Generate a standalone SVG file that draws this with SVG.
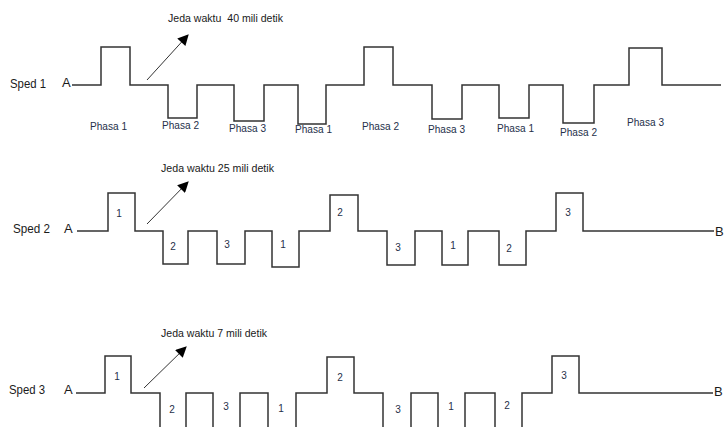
<svg xmlns="http://www.w3.org/2000/svg" width="724" height="427" viewBox="0 0 724 427">
<defs>
<style>
.sig{fill:none;stroke:#333;stroke-width:1.5;stroke-linejoin:miter}
.arr{fill:none;stroke:#333;stroke-width:1}
.lbl{font-family:"Liberation Sans",Arial,sans-serif;font-size:13px;fill:#1a1a1a}
.ph{font-family:"Liberation Sans",Arial,sans-serif;font-size:11px;fill:#25304a}
.num{font-family:"Liberation Sans",Arial,sans-serif;font-size:10px;fill:#25304a;text-anchor:middle}
.jeda{font-family:"Liberation Sans",Arial,sans-serif;font-size:11px;fill:#1a1a1a}
</style>
<marker id="ah" viewBox="0 0 10 10" refX="9" refY="5" markerWidth="14" markerHeight="11" markerUnits="userSpaceOnUse" orient="auto">
<path d="M0,0 L10,5 L0,10 z" fill="#000"/>
</marker>
</defs>
<rect width="724" height="427" fill="#fff"/>

<g id="sped1">
<text class="lbl" x="10" y="88" textLength="36" lengthAdjust="spacingAndGlyphs">Sped 1</text>
<text class="lbl" x="62" y="87">A</text>
<path class="sig" d="M72,85 H101 V47 H130 V85 H168 V118 H197 V85 H234 V121 H264 V85 H298 V124 H326 V85 H364 V47 H393 V85 H432 V119 H462 V85 H499 V118 H529 V85 H563 V123 H594 V85 H629 V48 H662 V85 H721"/>
<text class="ph" x="90" y="130" textLength="37" lengthAdjust="spacingAndGlyphs">Phasa 1</text>
<text class="ph" x="162" y="129" textLength="37" lengthAdjust="spacingAndGlyphs">Phasa 2</text>
<text class="ph" x="229" y="132" textLength="37" lengthAdjust="spacingAndGlyphs">Phasa 3</text>
<text class="ph" x="295" y="133" textLength="37" lengthAdjust="spacingAndGlyphs">Phasa 1</text>
<text class="ph" x="362" y="130" textLength="37" lengthAdjust="spacingAndGlyphs">Phasa 2</text>
<text class="ph" x="428" y="133" textLength="37" lengthAdjust="spacingAndGlyphs">Phasa 3</text>
<text class="ph" x="497" y="132" textLength="37" lengthAdjust="spacingAndGlyphs">Phasa 1</text>
<text class="ph" x="560" y="136" textLength="37" lengthAdjust="spacingAndGlyphs">Phasa 2</text>
<text class="ph" x="627" y="126" textLength="37" lengthAdjust="spacingAndGlyphs">Phasa 3</text>
<text class="jeda" x="168" y="22" textLength="115" lengthAdjust="spacingAndGlyphs" xml:space="preserve">Jeda waktu  40 mili detik</text>
</g>

<g id="sped2">
<text class="lbl" x="13" y="233" textLength="37" lengthAdjust="spacingAndGlyphs">Sped 2</text>
<text class="lbl" x="64" y="233">A</text>
<path class="sig" d="M77,231 H108 V193 H135 V231 H163 V264 H188 V231 H217 V264 H245 V231 H272 V267 H299 V231 H330 V195 H358 V231 H387 V265 H415 V231 H442 V265 H468 V231 H499 V265 H526 V231 H556 V193 H583 V231 H714"/>
<text class="lbl" x="715" y="236">B</text>
<text class="num" x="119" y="217">1</text>
<text class="num" x="173" y="250">2</text>
<text class="num" x="227" y="248">3</text>
<text class="num" x="283" y="248">1</text>
<text class="num" x="340" y="216">2</text>
<text class="num" x="398" y="251">3</text>
<text class="num" x="453" y="249">1</text>
<text class="num" x="509" y="252">2</text>
<text class="num" x="568" y="216">3</text>
<text class="jeda" x="161" y="172" textLength="113" lengthAdjust="spacingAndGlyphs">Jeda waktu 25 mili detik</text>
</g>

<g id="sped3">
<text class="lbl" x="9" y="394" textLength="36" lengthAdjust="spacingAndGlyphs">Sped 3</text>
<text class="lbl" x="64" y="394">A</text>
<path class="sig" d="M76,393 H105 V356 H131 V393 H160 V440 H186 V393 H213 V440 H240 V393 H268 V440 H296 V393 H327 V357 H354 V393 H383 V440 H411 V393 H438 V440 H465 V393 H495 V440 H522 V393 H552 V356 H579 V393 H713"/>
<text class="lbl" x="714" y="396">B</text>
<text class="num" x="117" y="380">1</text>
<text class="num" x="172" y="413">2</text>
<text class="num" x="226" y="410">3</text>
<text class="num" x="281" y="412">1</text>
<text class="num" x="340" y="381">2</text>
<text class="num" x="398" y="413">3</text>
<text class="num" x="451" y="410">1</text>
<text class="num" x="507" y="409">2</text>
<text class="num" x="564" y="379">3</text>
<text class="jeda" x="161" y="337" textLength="106" lengthAdjust="spacingAndGlyphs">Jeda waktu 7 mili detik</text>
</g>

<g id="connectors">
<line class="arr" x1="147" y1="80" x2="188" y2="35" marker-end="url(#ah)"/>
<line class="arr" x1="147" y1="224" x2="188" y2="182" marker-end="url(#ah)"/>
<line class="arr" x1="144" y1="388" x2="186" y2="347" marker-end="url(#ah)"/>
</g>
</svg>
